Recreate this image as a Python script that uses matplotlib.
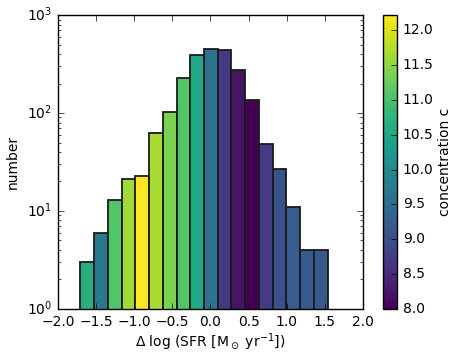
import numpy as np
import matplotlib
matplotlib.use("Agg")
import matplotlib.pyplot as plt
from matplotlib.colors import Normalize
from matplotlib.cm import ScalarMappable

plt.style.use('classic')
plt.rcParams['font.family'] = ['DejaVu Sans']
plt.rcParams['mathtext.fontset'] = 'dejavusans'

# data
bin_lo = -1.706
bin_hi = 1.536
counts = [3, 6, 13, 21, 23, 63, 102, 228, 394, 454, 443, 273, 137, 48, 27, 11, 4, 4]
concentration = [10.66, 9.69, 11.08, 11.63, 12.22, 11.67, 11.38, 11.08, 10.53,
                 9.60, 8.72, 8.21, 8.00, 8.72, 9.05, 9.22, 9.18, 9.16]
c_min, c_max = 8.0, 12.22

edges = np.linspace(bin_lo, bin_hi, len(counts) + 1)
cmap = plt.get_cmap('viridis')
norm = Normalize(vmin=c_min, vmax=c_max)

fig = plt.figure(figsize=(4.58, 3.58), dpi=100, facecolor='white')
ax = fig.add_axes([0.1266, 0.137, 0.666, 0.821])
ax.set_facecolor('white')
ax.bar(edges[:-1], counts, width=np.diff(edges), align='edge',
       color=[cmap(norm(c)) for c in concentration], edgecolor='#1a1a1a',
       linewidth=1.3, log=True, bottom=0.0001)
ax.set_yscale('log')
ax.set_xlim(-2, 2)
ax.set_ylim(1, 1000)
ax.set_xticks(np.arange(-2, 2.01, 0.5))
ax.tick_params(labelsize=10)
ax.set_xlabel(r'$\Delta$ log (SFR [M$_\odot$ yr$^{-1}$])', fontsize=10, labelpad=2)
ax.set_ylabel('number', fontsize=10)

cax = fig.add_axes([0.836, 0.137, 0.031, 0.821])
sm = ScalarMappable(norm=norm, cmap=cmap)
cb = fig.colorbar(sm, cax=cax, ticks=np.arange(8.0, 12.01, 0.5))
cb.ax.tick_params(labelsize=10)
cb.set_label('concentration c', fontsize=10, labelpad=3)

fig.savefig('out.png', dpi=100, facecolor='white')
